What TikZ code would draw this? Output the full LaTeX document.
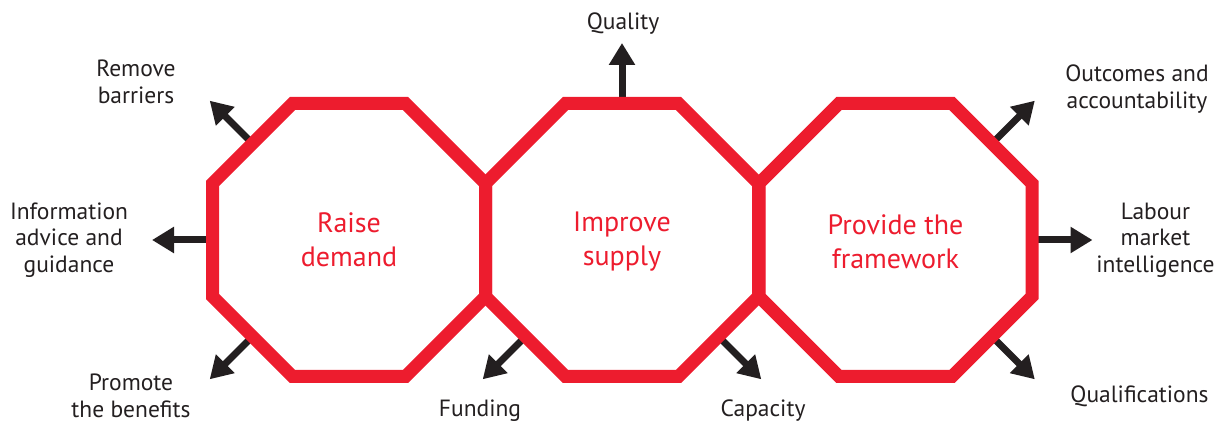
\documentclass[tikz,border=0pt]{standalone}
\usepackage{fontspec}
\setmainfont{PT Sans}
\usetikzlibrary{arrows.meta,calc}
\definecolor{octred}{RGB}{237,28,46}
\definecolor{ink}{RGB}{35,31,32}
\begin{document}
\begin{tikzpicture}[x=1pt,y=1pt,
  oct/.style={draw=octred,line width=13pt,line join=miter},
  arr/.style={draw=ink,line width=7pt,-{Triangle[length=22pt,width=25pt]}},
  lbl/.style={text=ink,align=center,inner sep=0pt,font=\fontsize{23.5}{26.5}\selectfont},
  title/.style={text=octred,align=center,inner sep=0pt,font=\fontsize{28}{34}\selectfont}]
\useasboundingbox (0,0) rectangle (1218,423);
\coordinate (c1) at (349,183);
\coordinate (c2) at (622,183);
\coordinate (c3) at (895.5,183);
% arrows (behind octagons)
\foreach \c/\a/\n in {c1/135/rb,c1/180/ia,c1/225/pb,c2/90/qu,c2/225/fu,c2/315/ca,c3/45/oa,c3/0/lm,c3/315/ql}{
  \coordinate (s\n) at ($(\c)+(\a:136.5)$);
  \coordinate (t\n) at ($(\c)+(\a:197)$);
  \draw[arr] (s\n) -- (t\n);
}
% octagons
\foreach \c in {c1,c2,c3}{
  \draw[oct] (\c) +(22.5:147.75) -- +(67.5:147.75) -- +(112.5:147.75) -- +(157.5:147.75)
    -- +(202.5:147.75) -- +(247.5:147.75) -- +(292.5:147.75) -- +(337.5:147.75) -- cycle;
}
% titles
\node[title] (n1) at (349,183) {Raise\\demand};
\node[title] (n2) at (622,181) {Improve\\supply};
\node[title] (n3) at (895.5,181) {Provide the\\framework};
% labels
\node[lbl,anchor=base] (lqu) at (623,393) {Quality};
\node[lbl] (lrb) at (136,341) {Remove\\barriers};
\node[lbl] (lia) at (69,183) {Information\\advice and\\guidance};
\node[lbl] (lpb) at (131,27) {Promote\\the benefits};
\node[lbl,anchor=base] (lfu) at (480,7) {Funding};
\node[lbl,anchor=base] (lca) at (763,7) {Capacity};
\node[lbl] (loa) at (1137,334) {Outcomes and\\accountability};
\node[lbl] (llm) at (1155.5,183) {Labour\\market\\intelligence};
\node[lbl,anchor=base] (lql) at (1139.5,20) {Qualifications};
\end{tikzpicture}
\end{document}
